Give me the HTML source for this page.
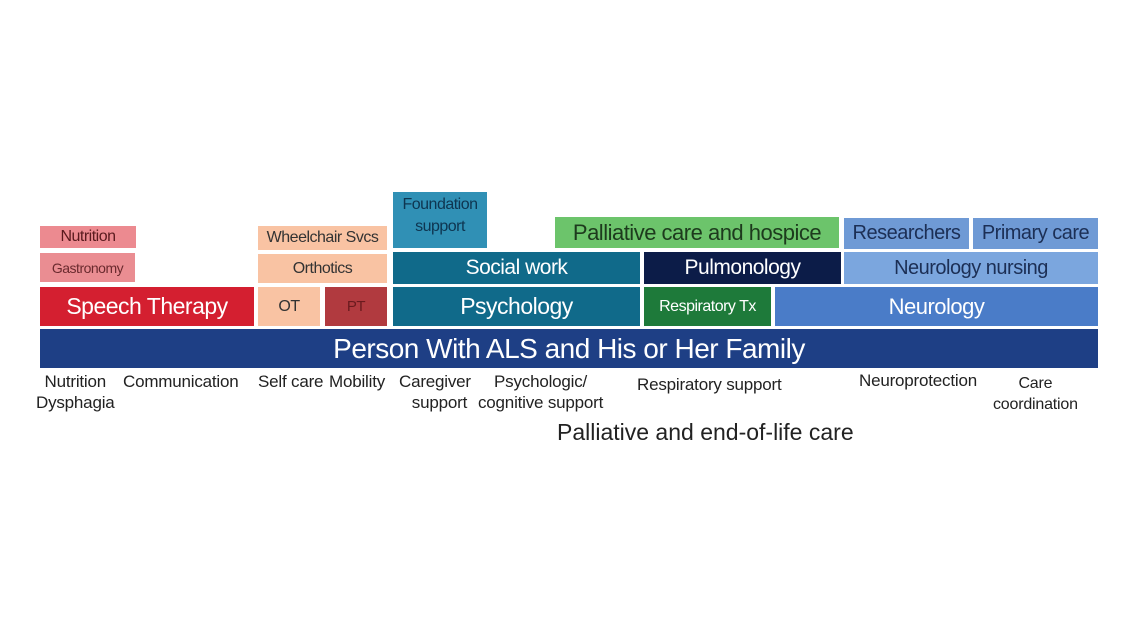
<!DOCTYPE html>
<html><head><style>
body{margin:0;width:1138px;height:640px;background:#fff;position:relative;font-family:"Liberation Sans",sans-serif;overflow:hidden}
.b{position:absolute;display:flex;align-items:center;justify-content:center;white-space:nowrap;letter-spacing:-0.5px}
.t{position:absolute;font-size:17px;color:#222;text-align:center;line-height:21px;white-space:nowrap;letter-spacing:-0.2px}
</style></head><body>
<div class="b" style="left:40px;top:226px;width:96px;height:22px;background:#ec8a90;color:#5a1a1e;font-size:16px">Nutrition</div>
<div class="b" style="left:40px;top:253px;width:95px;height:29px;background:#ea8d92;color:#6a2a2e;font-size:14px">Gastronomy</div>
<div class="b" style="left:40px;top:287px;width:214px;height:39px;background:#d41f30;color:#fff;font-size:23px">Speech Therapy</div>
<div class="b" style="left:258px;top:226px;width:129px;height:24px;background:#f9c3a3;color:#333;font-size:16px">Wheelchair Svcs</div>
<div class="b" style="left:258px;top:254px;width:129px;height:29px;background:#f9c3a3;color:#333;font-size:16px">Orthotics</div>
<div class="b" style="left:258px;top:287px;width:62px;height:39px;background:#f9c3a3;color:#333;font-size:16px">OT</div>
<div class="b" style="left:325px;top:287px;width:62px;height:39px;background:#b13a3f;color:#6a1a1e;font-size:15px">PT</div>
<div class="b" style="left:393px;top:192px;width:94px;height:56px;background:#3090b5;color:#0e3550;font-size:16px;line-height:22px;text-align:center;white-space:normal;align-items:flex-start;padding-top:2px;box-sizing:border-box">Foundation<br>support</div>
<div class="b" style="left:393px;top:252px;width:247px;height:32px;background:#106a8a;color:#fff;font-size:21px">Social work</div>
<div class="b" style="left:393px;top:287px;width:247px;height:39px;background:#106a8a;color:#fff;font-size:23px">Psychology</div>
<div class="b" style="left:555px;top:217px;width:284px;height:31px;background:#6cc46b;color:#1d3a1d;font-size:22px">Palliative care and hospice</div>
<div class="b" style="left:844px;top:218px;width:125px;height:31px;background:#6f9ad5;color:#1c2f55;font-size:20px">Researchers</div>
<div class="b" style="left:973px;top:218px;width:125px;height:31px;background:#6f9ad5;color:#1c2f55;font-size:20px">Primary care</div>
<div class="b" style="left:644px;top:252px;width:197px;height:32px;background:#0c1c48;color:#fff;font-size:21px">Pulmonology</div>
<div class="b" style="left:844px;top:252px;width:254px;height:32px;background:#7ba6de;color:#1c2f55;font-size:20px">Neurology nursing</div>
<div class="b" style="left:644px;top:287px;width:127px;height:39px;background:#1e7a3a;color:#fff;font-size:16px">Respiratory Tx</div>
<div class="b" style="left:775px;top:287px;width:323px;height:39px;background:#4a7cc8;color:#fff;font-size:22px">Neurology</div>
<div class="b" style="left:40px;top:329px;width:1058px;height:39px;background:#1e3f85;color:#fff;font-size:28px">Person With ALS and His or Her Family</div>
<div class="t" style="left:36px;top:371px">Nutrition<br>Dysphagia</div>
<div class="t" style="left:123px;top:371px">Communication</div>
<div class="t" style="left:258px;top:371px">Self care</div>
<div class="t" style="left:329px;top:371px">Mobility</div>
<div class="t" style="left:399px;top:371px">Caregiver<br>&nbsp;&nbsp;support</div>
<div class="t" style="left:478px;top:371px">Psychologic/<br>cognitive support</div>
<div class="t" style="left:637px;top:374px">Respiratory support</div>
<div class="t" style="left:859px;top:370px">Neuroprotection</div>
<div class="t" style="left:993px;top:373px;font-size:16px">Care<br>coordination</div>
<div class="t" style="left:557px;top:419px;font-size:23px;line-height:26px;letter-spacing:0">Palliative and end-of-life care</div>
</body></html>
